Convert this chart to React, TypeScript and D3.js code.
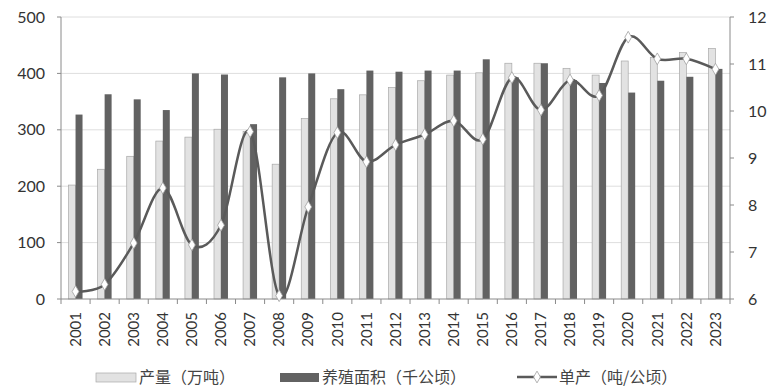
import * as d3 from 'd3'
import { useEffect, useRef } from 'react'

const years = [
  '2001', '2002', '2003', '2004', '2005', '2006', '2007', '2008', '2009', '2010', '2011', '2012',
  '2013', '2014', '2015', '2016', '2017', '2018', '2019', '2020', '2021', '2022', '2023'
]
// 产量（万吨）
const output = [202, 230, 253, 280, 287, 301, 297, 239, 320, 355, 362, 375, 387, 397, 401, 418, 418, 409, 397, 422, 428, 437, 444]
// 养殖面积（千公顷）
const area = [327, 363, 354, 335, 400, 398, 310, 393, 400, 372, 405, 403, 405, 405, 425, 393, 418, 388, 383, 366, 387, 394, 408]
// 单产（吨/公顷）
const yieldPerHa = [6.16, 6.31, 7.19, 8.36, 7.15, 7.57, 9.56, 6.07, 7.96, 9.54, 8.92, 9.28, 9.5, 9.79, 9.4, 10.71, 10.02, 10.66, 10.33, 11.57, 11.11, 11.11, 10.89]
const leftTicks = [0, 100, 200, 300, 400, 500]
const rightTicks = [6, 7, 8, 9, 10, 11, 12]

const W = 771
const H = 390
const numFont = 'Lato, "Open Sans", sans-serif'
const cjkFont = '"Noto Sans CJK SC", sans-serif'

export default function App() {
  const ref = useRef<SVGSVGElement>(null)

  useEffect(() => {
    const svg = d3.select(ref.current)
    svg.selectAll('*').remove()

    const left = 61
    const right = 730
    const top = 17
    const bottom = 299

    const x = d3.scaleBand().domain(years).range([left, right])
    const yL = d3.scaleLinear().domain([0, 500]).range([bottom, top])
    const yR = d3.scaleLinear().domain([6, 12]).range([bottom, top])
    const bw = x.bandwidth()
    const barW = bw * 0.24

    // gridlines
    svg
      .append('g')
      .selectAll('line')
      .data(leftTicks.slice(1))
      .join('line')
      .attr('x1', left)
      .attr('x2', right)
      .attr('y1', (d) => yL(d))
      .attr('y2', (d) => yL(d))
      .attr('stroke', '#dedede')
      .attr('stroke-width', 1)

    // bars
    svg
      .append('g')
      .selectAll('rect')
      .data(years)
      .join('rect')
      .attr('x', (d) => x(d)! + bw / 2 - barW)
      .attr('y', (d, i) => yL(output[i]))
      .attr('width', barW)
      .attr('height', (d, i) => bottom - yL(output[i]))
      .attr('fill', '#e2e2e2')
      .attr('stroke', '#a8a8a8')
      .attr('stroke-width', 0.7)

    svg
      .append('g')
      .selectAll('rect')
      .data(years)
      .join('rect')
      .attr('x', (d) => x(d)! + bw / 2)
      .attr('y', (d, i) => yL(area[i]))
      .attr('width', barW)
      .attr('height', (d, i) => bottom - yL(area[i]))
      .attr('fill', '#626262')

    // axes lines
    const axisColor = '#8a8a8a'
    svg.append('line').attr('x1', left).attr('x2', left).attr('y1', top).attr('y2', bottom).attr('stroke', axisColor)
    svg.append('line').attr('x1', right).attr('x2', right).attr('y1', top).attr('y2', bottom).attr('stroke', axisColor)
    svg.append('line').attr('x1', left).attr('x2', right).attr('y1', bottom).attr('y2', bottom).attr('stroke', axisColor)

    // left ticks
    const lt = svg.append('g')
    lt.selectAll('line')
      .data(leftTicks)
      .join('line')
      .attr('x1', left - 4)
      .attr('x2', left)
      .attr('y1', (d) => yL(d))
      .attr('y2', (d) => yL(d))
      .attr('stroke', axisColor)
    lt.selectAll('text')
      .data(leftTicks)
      .join('text')
      .attr('x', 45)
      .attr('y', (d) => yL(d))
      .attr('dy', '0.35em')
      .attr('text-anchor', 'end')
      .attr('font-family', numFont)
      .attr('font-size', 16)
      .attr('fill', '#333')
      .text((d) => d)

    // right ticks
    const rt = svg.append('g')
    rt.selectAll('line')
      .data(rightTicks)
      .join('line')
      .attr('x1', right)
      .attr('x2', right + 4)
      .attr('y1', (d) => yR(d))
      .attr('y2', (d) => yR(d))
      .attr('stroke', axisColor)
    rt.selectAll('text')
      .data(rightTicks)
      .join('text')
      .attr('x', 748)
      .attr('y', (d) => yR(d))
      .attr('dy', '0.35em')
      .attr('font-family', numFont)
      .attr('font-size', 16)
      .attr('fill', '#333')
      .text((d) => d)

    // x ticks at band edges
    const edges = years.map((d) => x(d)!).concat([right])
    svg
      .append('g')
      .selectAll('line')
      .data(edges)
      .join('line')
      .attr('x1', (d) => d)
      .attr('x2', (d) => d)
      .attr('y1', bottom)
      .attr('y2', bottom + 5)
      .attr('stroke', axisColor)

    svg
      .append('g')
      .selectAll('text')
      .data(years)
      .join('text')
      .attr('transform', (d) => `translate(${x(d)! + bw / 2},312) rotate(-90)`)
      .attr('dy', '0.35em')
      .attr('text-anchor', 'end')
      .attr('font-family', numFont)
      .attr('font-size', 15)
      .attr('fill', '#333')
      .text((d) => d)

    // yield line
    const line = d3
      .line<number>()
      .x((d, i) => x(years[i])! + bw / 2)
      .y((d) => yR(d))
      .curve(d3.curveCardinal.tension(0))
    svg
      .append('path')
      .datum(yieldPerHa)
      .attr('d', line)
      .attr('fill', 'none')
      .attr('stroke', '#5a5a5a')
      .attr('stroke-width', 2.5)

    const diamond = d3.symbol().type(d3.symbolDiamond).size(40)
    svg
      .append('g')
      .selectAll('path')
      .data(yieldPerHa)
      .join('path')
      .attr('transform', (d, i) => `translate(${x(years[i])! + bw / 2},${yR(d)})`)
      .attr('d', diamond)
      .attr('fill', '#fff')
      .attr('stroke', '#a0a0a0')
      .attr('stroke-width', 0.8)

    // legend
    const lg = svg.append('g').attr('font-family', cjkFont).attr('font-size', 16).attr('fill', '#444')
    const ly = 377
    lg.append('rect').attr('x', 96).attr('y', ly - 4).attr('width', 40).attr('height', 9).attr('fill', '#e2e2e2').attr('stroke', '#a8a8a8').attr('stroke-width', 0.7)
    lg.append('text').attr('x', 139).attr('y', ly).attr('dy', '0.35em').text('产量（万吨）')
    lg.append('rect').attr('x', 280).attr('y', ly - 4).attr('width', 39).attr('height', 9).attr('fill', '#626262')
    lg.append('text').attr('x', 322).attr('y', ly).attr('dy', '0.35em').text('养殖面积（千公顷）')
    lg.append('line').attr('x1', 517).attr('x2', 557).attr('y1', ly).attr('y2', ly).attr('stroke', '#5a5a5a').attr('stroke-width', 2.5)
    lg.append('path').attr('transform', `translate(537,${ly})`).attr('d', diamond).attr('fill', '#fff').attr('stroke', '#a0a0a0').attr('stroke-width', 0.8)
    lg.append('text').attr('x', 559).attr('y', ly).attr('dy', '0.35em').text('单产（吨/公顷）')
  }, [])

  return (
    <svg
      ref={ref}
      width={W}
      height={H}
      style={{ position: 'absolute', left: 0, top: 0, background: '#fff' }}
    />
  )
}
